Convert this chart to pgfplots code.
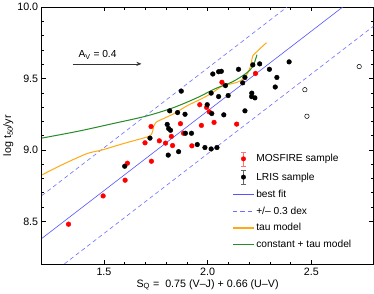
\documentclass[border=0pt]{standalone}
\usepackage{fontspec}
\setmainfont{Liberation Sans}
\usepackage{pgfplots}
\pgfplotsset{compat=1.18}
\usetikzlibrary{arrows.meta}
\definecolor{fitblue}{RGB}{85,85,255}
\definecolor{dashblue}{RGB}{110,110,255}
\definecolor{taucol}{RGB}{255,170,20}
\definecolor{ctcol}{RGB}{40,140,40}
\begin{document}
\begin{tikzpicture}
\begin{axis}[
  scale only axis, width=324bp, height=251bp,
  xmin=1.2, xmax=2.8, ymin=8.2, ymax=10.0,
  xtick={1.5,2.0,2.5}, ytick={8.5,9.0,9.5,10.0},
  minor x tick num=4, minor y tick num=4,
  tick align=inside, major tick length=4bp, minor tick length=2.5bp,
  axis line style={line width=1pt}, tick style={black, line width=0.6pt},
  /pgf/number format/assume math mode=true,
  xticklabel style={/pgf/number format/.cd, fixed, fixed zerofill, precision=1},
  yticklabel style={/pgf/number format/.cd, fixed, fixed zerofill, precision=1},
  tick label style={font=\fontsize{10.5}{12}\selectfont},
  label style={font=\fontsize{10.5}{12}\selectfont},
  xlabel={S\textsubscript{Q} =\ \ 0.75 (V--J) + 0.66 (U--V)},
  ylabel={log t\textsubscript{\itshape 50}/yr},
  xlabel style={yshift=3bp}, ylabel style={yshift=-3bp},
  legend cell align=left,
  legend style={draw=none, fill=none, font=\fontsize{10}{12}\selectfont,
    at={(rel axis cs:0.575,0.05)}, anchor=south west, row sep=3.6bp,
    inner sep=0pt},
  legend image code/.code={\draw[#1] (0cm,0cm) -- (0.35cm,0cm) -- (0.7cm,0cm);},
]
% lines
\addplot[fitblue, line width=0.6pt, forget plot] coordinates {(1.2,8.38) (2.8,10.167)};
\addplot[dashblue, line width=0.6pt, dash pattern=on 4bp off 3bp, forget plot] coordinates {(1.2,8.68) (2.8,10.467)};
\addplot[dashblue, line width=0.6pt, dash pattern=on 4bp off 3bp, forget plot] coordinates {(1.2,8.08) (2.8,9.867)};
\addplot[taucol, line width=1pt, smooth, tension=0.4, forget plot] coordinates {
(1.202,8.826) (1.293,8.893) (1.417,8.974) (1.491,9.0) (1.59,9.043) (1.689,9.083)
(1.722,9.098) (1.734,9.125) (1.740,9.165) (1.752,9.195) (1.78,9.215) (1.838,9.255)
(1.904,9.312) (1.970,9.358) (2.020,9.398) (2.069,9.446) (2.119,9.465) (2.150,9.478)
(2.172,9.50) (2.193,9.536) (2.205,9.58) (2.212,9.62) (2.218,9.66) (2.235,9.685)
(2.26,9.72) (2.284,9.751)};
\addplot[ctcol, line width=1pt, smooth, forget plot] coordinates {
(1.2,9.083) (1.375,9.131) (1.541,9.184) (1.706,9.238) (1.838,9.298) (1.954,9.369)
(2.036,9.429) (2.119,9.477) (2.185,9.536) (2.218,9.584) (2.238,9.667)};
% open circles
\addplot[only marks, mark=o, mark size=2.2pt, black, mark options={line width=0.5pt}, forget plot] coordinates {
(2.469,9.422) (2.479,9.236) (2.731,9.584)};
% MOSFIRE
\addplot[only marks, mark=*, mark size=2.3pt, red, mark options={draw=red, fill=red},
  legend image code/.code={
    \draw[red!55, line width=0.6pt] (0.35cm,-0.24cm) -- (0.35cm,0.24cm);
    \draw[red!55, line width=0.6pt] (0.27cm,-0.24cm) -- (0.43cm,-0.24cm);
    \draw[red!55, line width=0.6pt] (0.27cm,0.24cm) -- (0.43cm,0.24cm);
    \fill[red] (0.35cm,0cm) circle (2.2pt);}] coordinates {
(1.329,8.480) (1.496,8.678) (1.602,8.788) (1.613,8.907) (1.698,9.050) (1.727,9.164)
(1.729,8.921) (1.767,9.064) (1.797,9.048) (1.825,9.095) (1.831,9.031) (1.869,9.184)
(1.884,9.117) (1.924,9.029) (1.962,9.317) (1.970,9.172) (1.995,9.298) (2.008,9.267)
(2.031,9.193) (2.069,9.474) (2.140,9.181) (2.231,9.536)};
\addlegendentry{MOSFIRE sample}
% LRIS
\addplot[only marks, mark=*, mark size=2.3pt, black,
  legend image code/.code={
    \draw[black!60, line width=0.6pt] (0.35cm,-0.24cm) -- (0.35cm,0.24cm);
    \draw[black!60, line width=0.6pt] (0.27cm,-0.24cm) -- (0.43cm,-0.24cm);
    \draw[black!60, line width=0.6pt] (0.27cm,0.24cm) -- (0.43cm,0.24cm);
    \fill[black] (0.35cm,0cm) circle (2.2pt);}] coordinates {
(1.600,8.886) (1.722,9.083) (1.812,9.150) (1.805,9.179) (1.821,9.138) (1.810,8.964)
(1.817,9.274) (1.860,8.988) (1.855,9.262) (1.873,9.412) (1.891,9.250) (1.893,9.117)
(1.922,9.117) (1.950,9.038) (1.987,9.017) (2.017,9.007) (2.045,9.017) (1.998,9.317)
(2.017,9.398) (2.020,9.255) (2.025,9.532) (2.053,9.374) (2.053,9.548) (2.066,9.551)
(2.078,9.246) (2.086,9.451) (2.099,9.381) (2.149,9.565) (2.169,9.470) (2.180,9.508)
(2.180,9.274) (2.213,9.398) (2.212,9.374) (2.218,9.596) (2.228,9.365) (2.251,9.603)
(2.298,9.565) (2.334,9.508) (2.326,9.441) (2.393,9.617)};
\addlegendentry{LRIS sample}
\addlegendimage{color=fitblue, line width=1pt}
\addlegendentry{best fit}
\addlegendimage{color=dashblue, line width=1pt, dash pattern=on 4bp off 3bp}
\addlegendentry{+/-- 0.3 dex}
\addlegendimage{color=taucol, line width=1.2pt}
\addlegendentry{tau model}
\addlegendimage{color=ctcol, line width=1.2pt}
\addlegendentry{constant + tau model}
% arrow annotation
\draw[-{Stealth[length=5bp,width=4bp]}, black!80, line width=0.5pt] (axis cs:1.349,9.603) -- (axis cs:1.681,9.603);
\node[font=\fontsize{10}{12}\selectfont] at (axis cs:1.469,9.665) {A\textsubscript{V} = 0.4};
\end{axis}
\end{tikzpicture}
\end{document}
